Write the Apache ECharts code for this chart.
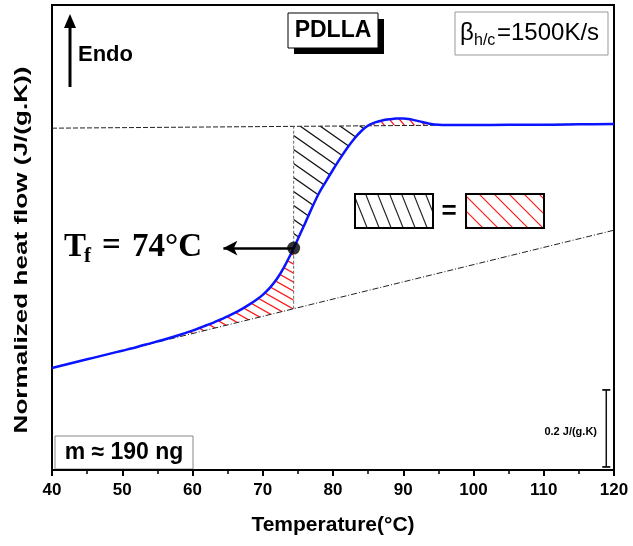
<!DOCTYPE html>
<html>
<head>
<meta charset="utf-8">
<script src="https://cdn.jsdelivr.net/npm/echarts@6/dist/echarts.min.js"></script>
<style>html,body{margin:0;padding:0;background:#fff}#c{width:633px;height:546px}</style>
</head>
<body>
<div id="c"></div>
<script>
// ---- data ----
var temps = [40,42,44,46,48,50,52,54,56,58,60,61,62,63,64,65,66,67,68,69,70,71,72,73,74,75,76,77,78,79,80,81,82,83,84,85,86,87,88,89,90,91,92,93,94,95,96,98,100,105,110,115,120];
var heatFlow = [0.265,0.274,0.283,0.292,0.301,0.310,0.319,0.329,0.339,0.350,0.362,0.369,0.376,0.383,0.391,0.399,0.408,0.418,0.429,0.441,0.455,0.473,0.496,0.526,0.561,0.600,0.640,0.681,0.719,0.750,0.780,0.809,0.836,0.860,0.880,0.895,0.903,0.908,0.911,0.913,0.913,0.911,0.907,0.903,0.899,0.897,0.896,0.896,0.896,0.897,0.897,0.898,0.899];
var glassT = [40,120], glassY = [0.265,0.623];
var liquidT = [40,120], liquidY = [0.888,0.899];
var Tf = 74.4;
var xTicks = [40,50,60,70,80,90,100,110,120];
var scaleBarT = 118.9, scaleBarY = [0.008,0.208];

// ---- helpers ----
function lin(xs, ys, x){ return ys[0] + (ys[1]-ys[0])*(x-xs[0])/(xs[1]-xs[0]); }
function curveAt(x){
  for (var i=0;i<temps.length-1;i++){
    if (x>=temps[i] && x<=temps[i+1]) return heatFlow[i]+(heatFlow[i+1]-heatFlow[i])*(x-temps[i])/(temps[i+1]-temps[i]);
  }
  return heatFlow[heatFlow.length-1];
}
function glassAt(x){ return lin(glassT, glassY, x); }
function liqAt(x){ return lin(liquidT, liquidY, x); }
var Tc = Tf;
for (var i=0;i<temps.length-1;i++){
  if (temps[i]>Tf){
    var d0 = heatFlow[i]-liqAt(temps[i]), d1 = heatFlow[i+1]-liqAt(temps[i+1]);
    if (d0<=0 && d1>0){ Tc = temps[i]+(temps[i+1]-temps[i])*(-d0)/(d1-d0); break; }
  }
}
var Te = 95;
var redStart = 56;

function redLowerPts(){
  var p=[];
  for (var i=0;i<temps.length;i++) if (temps[i]>=redStart && temps[i]<Tf) p.push([temps[i],heatFlow[i]]);
  p.push([Tf,curveAt(Tf)]); p.push([Tf,glassAt(Tf)]); p.push([redStart,glassAt(redStart)]);
  return p;
}
function blackPts(){
  var p=[[Tf,curveAt(Tf)]];
  for (var i=0;i<temps.length;i++) if (temps[i]>Tf && temps[i]<Tc) p.push([temps[i],heatFlow[i]]);
  p.push([Tc,liqAt(Tc)]); p.push([Tf,liqAt(Tf)]);
  return p;
}
function overPts(){
  var p=[[Tc,liqAt(Tc)]];
  for (var i=0;i<temps.length;i++) if (temps[i]>Tc && temps[i]<Te) p.push([temps[i],heatFlow[i]]);
  p.push([Te,curveAt(Te)]); p.push([Te,liqAt(Te)]);
  return p;
}

function hatch(color, w, h, lw){
  var c=document.createElement('canvas'); c.width=w; c.height=h;
  var g=c.getContext('2d'); g.strokeStyle=color; g.lineWidth=lw;
  g.beginPath();
  g.moveTo(-w,-h); g.lineTo(2*w,2*h);
  g.moveTo(0,-h); g.lineTo(2*w,h);
  g.moveTo(-w,0); g.lineTo(w,2*h);
  g.stroke();
  return {image:c, repeat:'repeat'};
}
var patBlack = hatch('#111', 20, 14, 1.3);
var patRed = hatch('#ff1a1a', 16, 9, 1.3);
var patRedOver = hatch('#ff1a1a', 10, 12, 1.3);
var patBlackBox = hatch('#222', 12, 30, 1.2);
var patRedBox = hatch('#ff1a1a', 15, 15, 1.2);

function polySeries(fn, pat){
  return {type:'custom', coordinateSystem:'cartesian2d', data:[[Tf,0.5]], silent:true, z:1, clip:true,
    renderItem:function(params, api){
      return {type:'polygon', shape:{points: fn().map(function(p){return api.coord(p);})}, style:{fill:pat, stroke:null}};
    }};
}

var chart = echarts.init(document.getElementById('c'), null, {renderer:'canvas'});
var F = '"Liberation Sans", Arial, sans-serif';
var S = '"Liberation Serif", serif';
var yTf = curveAt(Tf);

chart.setOption({
  animation:false,
  backgroundColor:'#fff',
  grid:{left:52, right:19, top:5, bottom:76, show:true, borderColor:'#000', borderWidth:2, backgroundColor:'transparent'},
  xAxis:{type:'value', min:40, max:120, interval:10,
    axisLine:{show:true, lineStyle:{color:'#000', width:2}},
    axisTick:{show:true, inside:false, length:6, lineStyle:{color:'#000', width:2}},
    minorTick:{show:true, splitNumber:2, length:4, lineStyle:{color:'#000', width:1.5}},
    splitLine:{show:false},
    axisLabel:{color:'#000', fontFamily:F, fontWeight:'bold', fontSize:17, margin:12,
      formatter:function(v){ return xTicks.indexOf(v)>=0 ? String(v) : ''; }},
    name:'Temperature(°C)', nameLocation:'middle', nameGap:45,
    nameTextStyle:{color:'#000', fontFamily:F, fontWeight:'bold', fontSize:21}
  },
  yAxis:{type:'value', min:0, max:1.208,
    axisLine:{show:true, lineStyle:{color:'#000', width:2}},
    axisTick:{show:false}, axisLabel:{show:false}, splitLine:{show:false}
  },
  series:[
    polySeries(redLowerPts, patRed),
    polySeries(blackPts, patBlack),
    polySeries(overPts, patRedOver),
    {type:'line', data:[[liquidT[0],liquidY[0]],[liquidT[1],liquidY[1]]], symbol:'none', z:2,
      lineStyle:{color:'#222', width:1, type:[5,2]}},
    {type:'line', data:[[glassT[0],glassY[0]],[glassT[1],glassY[1]]], symbol:'none', z:2,
      lineStyle:{color:'#222', width:1, type:[6,2,1,2]}},
    {type:'line', data:[[Tf,glassAt(Tf)],[Tf,liqAt(Tf)]], symbol:'none', z:2,
      lineStyle:{color:'#666', width:1, type:[3,2]}},
    {type:'line', data:temps.map(function(t,i){return [t,heatFlow[i]];}), symbol:'none', smooth:0.3, z:3,
      lineStyle:{color:'#0a14ff', width:2.5}},
    {type:'line', data:[[scaleBarT,scaleBarY[0]],[scaleBarT,scaleBarY[1]]], symbol:'rect', symbolSize:[8,1.8], showSymbol:true, z:3,
      itemStyle:{color:'#111'}, lineStyle:{color:'#111', width:1.5}},
    {type:'scatter', data:[[Tf,yTf]], symbolSize:13, z:5, itemStyle:{color:'#000'},
      markLine:{silent:true, symbol:['arrow','none'], symbolSize:[11,14], label:{show:false},
        lineStyle:{color:'#000', width:2.5, type:'solid'},
        data:[[{coord:[64.4,yTf]},{coord:[Tf,yTf]}]]}}
  ],
  graphic:[
    {type:'text', x:22, y:250, rotation:Math.PI/2, scaleX:1.45, z:10,
      style:{text:'Normalized heat flow (J/(g.K))', fill:'#000', font:'bold 18px '+F, textAlign:'center', textVerticalAlign:'middle'}},
    {type:'line', shape:{x1:70, y1:87, x2:70, y2:24}, style:{stroke:'#000', lineWidth:3}},
    {type:'polygon', shape:{points:[[64,28],[76,28],[70,14]]}, style:{fill:'#000'}},
    {type:'text', x:78, y:55, style:{text:'Endo', fill:'#000', font:'bold 22px '+F, textVerticalAlign:'middle'}},
    {type:'rect', shape:{x:294, y:19, width:90, height:35}, style:{fill:'#000'}},
    {type:'rect', shape:{x:288, y:13, width:90, height:35}, style:{fill:'#fff', stroke:'#000', lineWidth:1}},
    {type:'text', x:333, y:31, style:{text:'PDLLA', fill:'#000', font:'bold 23px '+F, textAlign:'center', textVerticalAlign:'middle'}},
    {type:'rect', shape:{x:455, y:12, width:153, height:43}, style:{fill:'#fff', stroke:'#999', lineWidth:1}},
    {type:'text', x:460, y:33, style:{text:'β', fill:'#000', font:'24px '+F, textVerticalAlign:'middle'}},
    {type:'text', x:474, y:41, style:{text:'h/c', fill:'#000', font:'16px '+F, textVerticalAlign:'middle'}},
    {type:'text', x:497, y:33, style:{text:'=1500K/s', fill:'#000', font:'24px '+F, textVerticalAlign:'middle'}},
    {type:'rect', shape:{x:355, y:194, width:78, height:34}, style:{fill:patBlackBox, stroke:'#000', lineWidth:2}},
    {type:'text', x:449, y:212, style:{text:'=', fill:'#000', font:'bold 26px '+F, textAlign:'center', textVerticalAlign:'middle'}},
    {type:'rect', shape:{x:466, y:194, width:78, height:34}, style:{fill:patRedBox, stroke:'#000', lineWidth:2}},
    {type:'text', x:64, y:247, style:{text:'T', fill:'#000', font:'bold 33px '+S, textVerticalAlign:'middle'}},
    {type:'text', x:84, y:257, style:{text:'f', fill:'#000', font:'bold 21px '+S, textVerticalAlign:'middle'}},
    {type:'text', x:102, y:246, style:{text:'=', fill:'#000', font:'bold 33px '+S, textVerticalAlign:'middle'}},
    {type:'text', x:132, y:247, style:{text:'74°C', fill:'#000', font:'bold 33px '+S, textVerticalAlign:'middle'}},
    {type:'rect', shape:{x:55, y:436, width:138, height:33}, style:{fill:'#fff', stroke:'#888', lineWidth:1}},
    {type:'text', x:124, y:453, style:{text:'m ≈ 190 ng', fill:'#000', font:'bold 23px '+F, textAlign:'center', textVerticalAlign:'middle'}},
    {type:'text', x:597, y:432, style:{text:'0.2 J/(g.K)', fill:'#000', font:'bold 11px '+F, textAlign:'right', textVerticalAlign:'middle'}}
  ]
});
</script>
</body>
</html>
